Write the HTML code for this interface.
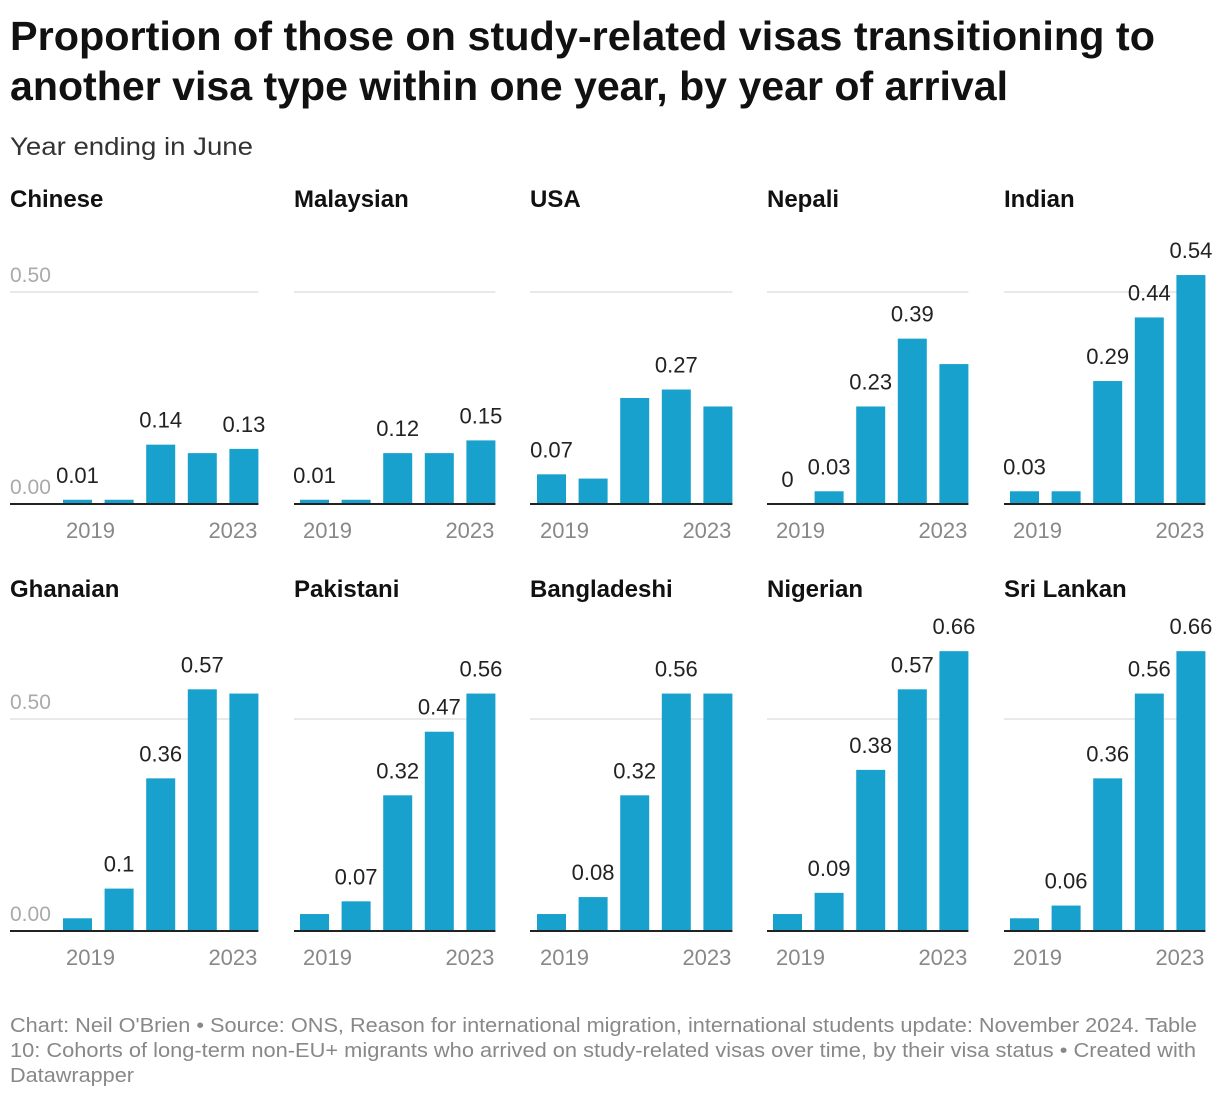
<!DOCTYPE html>
<html><head><meta charset="utf-8"><style>
body{margin:0;background:#fff;width:1220px;height:1100px;overflow:hidden;font-family:"Liberation Sans",Arial,sans-serif}
</style></head><body>
<svg id="chart" width="1220" height="1100" xmlns="http://www.w3.org/2000/svg" font-family="Liberation Sans, Arial, sans-serif">
<text x="10" y="50" font-size="41" font-weight="bold" fill="#111" textLength="1145" lengthAdjust="spacingAndGlyphs">Proportion of those on study-related visas transitioning to</text>
<text x="10" y="100" font-size="41" font-weight="bold" fill="#111" textLength="998" lengthAdjust="spacingAndGlyphs">another visa type within one year, by year of arrival</text>
<text x="10" y="155" font-size="25" fill="#333" textLength="243" lengthAdjust="spacingAndGlyphs">Year ending in June</text>
<g font-size="20" fill="#888">
<text x="10" y="1032" textLength="1187" lengthAdjust="spacingAndGlyphs">Chart: Neil O'Brien • Source: ONS, Reason for international migration, international students update: November 2024. Table</text>
<text x="10" y="1057" textLength="1186" lengthAdjust="spacingAndGlyphs">10: Cohorts of long-term non-EU+ migrants who arrived on study-related visas over time, by their visa status • Created with</text>
<text x="10" y="1082" textLength="124" lengthAdjust="spacingAndGlyphs">Datawrapper</text>
</g>
<g id="panels"></g>
</svg>
<script>
const countries = ["Chinese","Malaysian","USA","Nepali","Indian","Ghanaian","Pakistani","Bangladeshi","Nigerian","Sri Lankan"];
const years = [2019,2020,2021,2022,2023];
const chinese = [0.01,0.01,0.14,0.12,0.13];
const malaysian = [0.01,0.01,0.12,0.12,0.15];
const usa = [0.07,0.06,0.25,0.27,0.23];
const nepali = [0,0.03,0.23,0.39,0.33];
const indian = [0.03,0.03,0.29,0.44,0.54];
const ghanaian = [0.03,0.1,0.36,0.57,0.56];
const pakistani = [0.04,0.07,0.32,0.47,0.56];
const bangladeshi = [0.04,0.08,0.32,0.56,0.56];
const nigerian = [0.04,0.09,0.38,0.57,0.66];
const srilankan = [0.03,0.06,0.36,0.56,0.66];
const seriesValues = [chinese,malaysian,usa,nepali,indian,ghanaian,pakistani,bangladeshi,nigerian,srilankan];
const shownLabels = [[1,0,1,0,1],[1,0,1,0,1],[1,0,0,1,0],[1,1,1,1,0],[1,0,1,1,1],[0,1,1,1,0],[0,1,1,1,1],[0,1,1,1,0],[0,1,1,1,1],[0,1,1,1,1]];
const yTicks = [0, 0.5];
const yTickLabels = ["0.00","0.50"];
const xTickLabels = ["2019","2023"];

const NS="http://www.w3.org/2000/svg";
const g=document.getElementById('panels');
const panelLeft=[10,294,530,767,1004];
const barStart=[63,300,537,773,1010];
const rowBase=[504,931];
const titleY=[207,597];
const scale=424;
const step=41.6, bw=29;
function mk(tag,attrs,parent){const e=document.createElementNS(NS,tag);for(const k in attrs)e.setAttribute(k,attrs[k]);parent.appendChild(e);return e;}
function yScale(v,r){return rowBase[r]-v*scale;}
function xScale(i,c){return barStart[c]+i*step;}
countries.forEach((name,p)=>{
  const r=Math.floor(p/5), c=p%5;
  const pg=mk('g',{},g);
  
  
  const t=mk('text',{x:panelLeft[c],y:titleY[r],'font-size':24,'font-weight':'bold',fill:'#111'},pg);
  t.textContent=name;
  
  
  const right=barStart[c]+4*step+bw;
  yTicks.forEach((tv,ti)=>{
    if(tv>0){const gl=mk('line',{x1:panelLeft[c],x2:right,y1:yScale(tv,r),y2:yScale(tv,r),stroke:'#e2e2e2','stroke-width':1.5},pg);
      
      }
    if(c===0){const yl=mk('text',{x:10,y:yScale(tv,r)-10,'font-size':21,fill:'#aaa'},pg);
      yl.textContent=yTickLabels[ti];
      
      }
  });
  seriesValues[p].forEach((v,i)=>{
    const x=xScale(i,c), y=yScale(v,r);
    const b=mk('rect',{x:x,y:y,width:bw,height:rowBase[r]-y,fill:'#18a1cd'},pg);
    
    
    if(shownLabels[p][i]){
      const lt=mk('text',{x:x+bw/2,y:y-17,'font-size':22,fill:'#222','text-anchor':'middle'},pg);
      lt.textContent=String(v);
      
      
    }
  });
  const bl=mk('line',{x1:panelLeft[c],x2:right,y1:rowBase[r],y2:rowBase[r],stroke:'#222','stroke-width':2},pg);
  
  
  [0,4].forEach((i,k)=>{
    const attrs = k===0 ? {x:xScale(i,c)+3,'text-anchor':'start'} : {x:xScale(i,c)+bw-1,'text-anchor':'end'};
    attrs.y=rowBase[r]+34; attrs['font-size']=22; attrs.fill='#888';
    const xt=mk('text',attrs,pg);
    xt.textContent=xTickLabels[k];
    
    
  });
});
</script>
</body></html>
